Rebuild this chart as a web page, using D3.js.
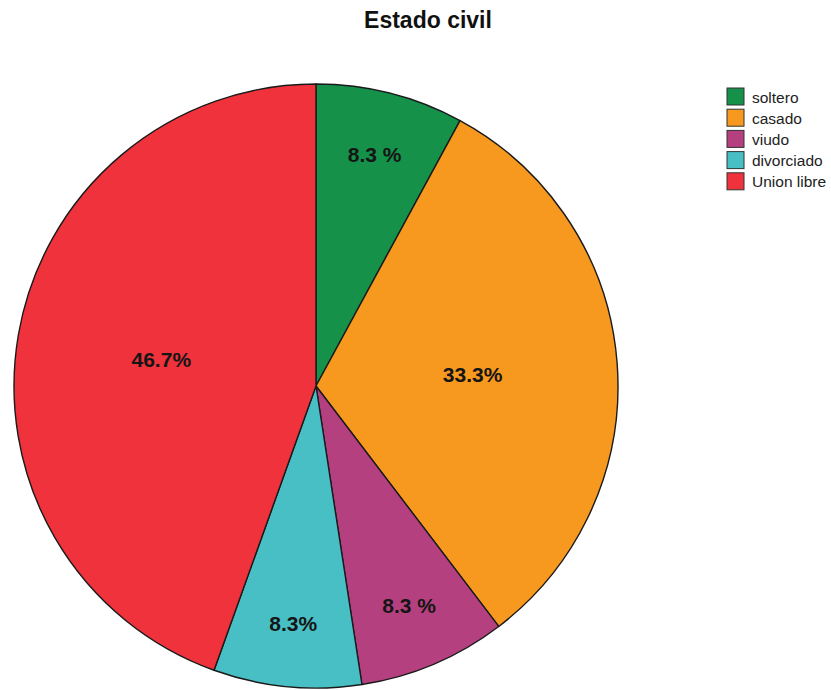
<!DOCTYPE html>
<html>
<head>
<meta charset="utf-8">
<script src="https://cdn.jsdelivr.net/npm/d3@7"></script>
<style>
  html, body { margin: 0; padding: 0; background: #fff; }
  svg { display: block; font-family: "Liberation Sans", Arial, sans-serif; }
</style>
</head>
<body>
<svg id="chart" width="831" height="690"></svg>
<script>
// Marital status distribution
const categories = ["soltero", "casado", "viudo", "divorciado", "Union libre"];
const percents = [8.3, 33.3, 8.3, 8.3, 46.7];
const sliceLabels = ["8.3 %", "33.3%", "8.3 %", "8.3%", "46.7%"];
const colors = ["#15914a", "#f7991e", "#b5407f", "#48bfc5", "#ef323b"];

const svg = d3.select("#chart");
const cx = 316, cy = 386, radius = 302;

svg.append("text")
  .attr("x", 428).attr("y", 28)
  .attr("text-anchor", "middle")
  .attr("font-size", 23).attr("font-weight", "bold")
  .attr("fill", "#111")
  .text("Estado civil");

const color = d3.scaleOrdinal().domain(categories).range(colors);

const pie = d3.pie().sort(null).value(d => d.value);
const arcs = pie(categories.map((c, i) => ({ cat: c, value: percents[i], label: sliceLabels[i] })));
const total = d3.sum(percents);

const arc = d3.arc().innerRadius(0).outerRadius(radius);

const g = svg.append("g").attr("transform", `translate(${cx},${cy})`);

g.selectAll("path.slice")
  .data(arcs)
  .join("path")
  .attr("class", "slice")
  .attr("d", arc)
  .attr("fill", d => color(d.data.cat))
  .attr("stroke", "#1a1a1a")
  .attr("stroke-width", 1.4)
  .attr("stroke-linejoin", "round");

// small slices get their labels nearer the rim
g.selectAll("text.lbl")
  .data(arcs)
  .join("text")
  .attr("class", "lbl")
  .each(function(d) {
    const f = d.data.value / total < 0.15 ? 0.79 : 0.52;
    const la = d3.arc().innerRadius(radius * f).outerRadius(radius * f);
    const [x, y] = la.centroid(d);
    d3.select(this).attr("x", x).attr("y", y);
  })
  .attr("text-anchor", "middle")
  .attr("dominant-baseline", "central")
  .attr("font-size", 21).attr("font-weight", "bold")
  .attr("fill", "#151515")
  .text(d => d.data.label);

// legend
const legend = svg.append("g").attr("transform", "translate(727,88)");
const row = legend.selectAll("g")
  .data(categories)
  .join("g")
  .attr("transform", (d, i) => `translate(0,${i * 21.2})`);
row.append("rect")
  .attr("width", 17).attr("height", 17)
  .attr("fill", d => color(d))
  .attr("stroke", "#333").attr("stroke-width", 1);
row.append("text")
  .attr("x", 25).attr("y", 9)
  .attr("dominant-baseline", "central")
  .attr("font-size", 15.5)
  .attr("fill", "#222")
  .text(d => d);
</script>
</body>
</html>
